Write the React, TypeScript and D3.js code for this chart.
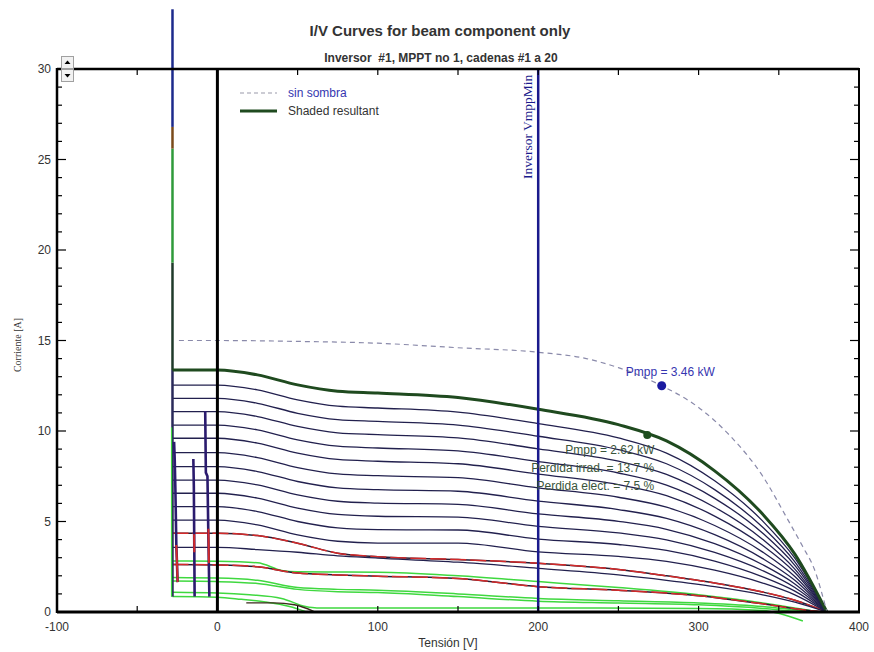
import React, { useEffect, useRef } from 'react';
import * as d3 from 'd3';

// Voltage grid (V) shared by the string-sum curves
const VOLTS = [0, 25, 50, 75, 100, 150, 200, 250, 280, 310, 340, 360, 380];

// Shaded resultant I(V), amps
const RESULTANT = [13.37, 13.1, 12.55, 12.2, 12.1, 11.85, 11.2, 10.35, 9.45, 7.8, 5.4, 3.2, 0];

// Partial string sums (navy family)
const STRING_SUMS: number[][] = [
  [12.54, 12.27, 11.72, 11.37, 11.27, 11.04, 10.41, 9.62, 8.78, 7.25, 5.02, 2.97, 0],
  [11.8, 11.53, 10.98, 10.63, 10.53, 10.33, 9.71, 8.97, 8.19, 6.76, 4.68, 2.77, 0],
  [11.07, 10.8, 10.25, 9.9, 9.8, 9.62, 9.01, 8.33, 7.6, 6.28, 4.35, 2.58, 0],
  [10.33, 10.06, 9.51, 9.16, 9.06, 8.9, 8.31, 7.68, 7.01, 5.79, 4.01, 2.37, 0],
  [9.6, 9.33, 8.78, 8.43, 8.33, 8.19, 7.62, 7.04, 6.43, 5.3, 3.67, 2.18, 0],
  [8.8, 8.53, 7.98, 7.63, 7.53, 7.42, 6.86, 6.34, 5.79, 4.78, 3.31, 1.96, 0],
  [8.03, 7.76, 7.21, 6.86, 6.76, 6.67, 6.13, 5.66, 5.17, 4.27, 2.95, 1.75, 0],
  [7.29, 7.02, 6.47, 6.12, 6.02, 5.95, 5.42, 5.01, 4.57, 3.78, 2.61, 1.55, 0],
  [6.56, 6.29, 5.74, 5.39, 5.29, 5.24, 4.73, 4.37, 3.99, 3.29, 2.28, 1.35, 0],
  [5.82, 5.55, 5.0, 4.65, 4.55, 4.53, 4.03, 3.73, 3.4, 2.81, 1.94, 1.15, 0],
  [5.08, 4.81, 4.26, 3.91, 3.81, 3.81, 3.32, 3.07, 2.8, 2.31, 1.6, 0.95, 0],
  [3.57, 3.45, 3.3, 3.1, 2.98, 2.75, 2.41, 2.05, 1.75, 1.4, 0.95, 0.55, 0],
];

// Partial sums with mismatch (red)
const MISMATCH_SUMS: [number, number][][] = [
  [[-28, 4.35], [0, 4.35], [25, 4.22], [50, 3.8], [75, 3.25], [100, 3.05], [150, 2.9], [200, 2.69], [250, 2.35], [280, 2.0], [310, 1.6], [340, 1.1], [360, 0.65], [380, 0]],
  [[-28, 2.63], [0, 2.6], [25, 2.5], [50, 2.15], [75, 2.05], [100, 1.98], [150, 1.85], [200, 1.4], [250, 1.2], [300, 0.9], [340, 0.45], [365, 0.12], [378, 0]],
];

// Single strings (green)
const SINGLE_STRINGS: [number, number][][] = [
  [[-28, 2.82], [0, 2.8], [25, 2.72], [40, 2.3], [50, 2.22], [100, 2.2], [150, 2.0], [200, 1.68], [250, 1.35], [300, 0.95], [340, 0.5], [365, 0.15], [375, 0]],
  [[-28, 1.9], [0, 1.88], [25, 1.75], [50, 1.35], [75, 1.25], [100, 1.2], [150, 1.0], [200, 0.75], [250, 0.62], [300, 0.5], [340, 0.3], [370, 0]],
  [[-28, 1.71], [0, 1.68], [25, 1.58], [50, 1.25], [75, 1.12], [100, 1.08], [150, 0.85], [200, 0.6], [250, 0.5], [300, 0.4], [340, 0.2], [365, 0]],
  [[-28, 1.09], [0, 1.05], [20, 0.95], [40, 0.75], [55, 0.3], [62, 0.22], [100, 0.22], [200, 0.22], [300, 0.2], [340, 0.08], [365, -0.5]],
  [[-28, 0.85], [0, 0.82], [15, 0.7], [30, 0.55], [45, 0.3], [55, 0.02]],
];
const SMALL_HUMP: [number, number][] = [[18, 0.5], [35, 0.5], [48, 0.4], [60, 0.04]];

// Unshaded reference curve (dashed)
const SIN_SOMBRA_V = [-24, 0, 50, 100, 150, 200, 230, 250, 265, 277, 300, 320, 340, 355, 365, 372, 380];
const SIN_SOMBRA_I = [15.0, 15.0, 14.95, 14.85, 14.6, 14.35, 14.0, 13.5, 13.0, 12.5, 11.3, 9.7, 7.5, 5.2, 3.6, 2.4, 0];

// Bypass-diode risers
const RISER_V = -28;
const RISER_LEVELS = [0.85, 13.37, 19.3, 25.6, 26.8, 33.3];
const BYPASS_SPIKES: [number, number][][] = [
  [[-27, 9.4], [-26.6, 8.4], [-26.2, 6.8], [-25.6, 3.7], [-24.8, 1.65]],
  [[-15, 8.45], [-14.7, 7.0], [-14.4, 3.5], [-14.2, 0.85]],
  [[-7.6, 11.1], [-7.2, 7.7], [-6.2, 7.5], [-5.6, 4.0], [-5, 0.85]],
];
const BYPASS_RED: [number, number][][] = [
  [[-25.6, 3.7], [-24.8, 1.65]],
  [[-14.5, 4.3], [-14.4, 3.3]],
  [[-5.6, 4.6], [-5.3, 2.7]],
];

// Maximum power points (V, A)
const MPP_UNSHADED: [number, number] = [277, 12.5];
const MPP_SHADED: [number, number] = [268, 9.78];
const INVERTER_VMPP_MIN = 200;

const X_TICK_LABELS = [-100, 0, 100, 200, 300, 400];
const Y_TICK_LABELS = [0, 5, 10, 15, 20, 25, 30];

const SANS = '"Liberation Sans", Arial, sans-serif';
const SERIF = '"Liberation Serif", "Times New Roman", serif';

export default function App() {
  const ref = useRef<SVGSVGElement>(null);

  useEffect(() => {
    const svg = d3.select(ref.current);
    svg.selectAll('*').remove();

    const x = d3.scaleLinear().domain([-100, 400]).range([57, 859]);
    const y = d3.scaleLinear().domain([0, 30]).range([612, 69]);
    const [x0, x1] = x.range();
    const [yb, yt] = y.range();

    const line = d3
      .line<[number, number]>()
      .x((d) => x(d[0]))
      .y((d) => y(d[1]))
      .curve(d3.curveMonotoneX);
    const straight = d3
      .line<[number, number]>()
      .x((d) => x(d[0]))
      .y((d) => y(d[1]));

    const g = svg.append('g');

    // Titles
    svg.append('text').attr('x', 440).attr('y', 36).attr('text-anchor', 'middle')
      .attr('font-family', SANS).attr('font-weight', 'bold').attr('font-size', 15).attr('fill', '#333')
      .text('I/V Curves for beam component only');
    svg.append('text').attr('x', 441).attr('y', 62).attr('text-anchor', 'middle')
      .attr('font-family', SANS).attr('font-weight', 'bold').attr('font-size', 12).attr('fill', '#333')
      .style('white-space', 'pre')
      .text('Inversor  #1, MPPT no 1, cadenas #1 a 20');

    // Green single strings
    SINGLE_STRINGS.forEach((s) => {
      g.append('path').attr('d', line(s)).attr('fill', 'none').attr('stroke', '#3fd83f').attr('stroke-width', 1.5);
    });
    g.append('path').attr('d', line(SMALL_HUMP)).attr('fill', 'none').attr('stroke', '#3a2a1a').attr('stroke-width', 1.3);

    // Red mismatch sums (dark under-line shows through gaps)
    MISMATCH_SUMS.forEach((s) => {
      g.append('path').attr('d', line(s)).attr('fill', 'none').attr('stroke', '#2a1a30').attr('stroke-width', 1.5);
      g.append('path').attr('d', line(s)).attr('fill', 'none').attr('stroke', '#d42a2a').attr('stroke-width', 1.5)
        .attr('stroke-dasharray', '16,4');
    });

    // Navy string sums
    STRING_SUMS.forEach((vals) => {
      const pts: [number, number][] = [[RISER_V, vals[0]], ...VOLTS.map((v, i) => [v, vals[i]] as [number, number])];
      g.append('path').attr('d', line(pts)).attr('fill', 'none').attr('stroke', '#22204e').attr('stroke-width', 1.3);
    });

    // Riser at bypass voltage
    const riserColors = ['#2a2a5a', '#1f3a2a', '#2f9a3a', '#7a4a1a', '#1c2a8c'];
    RISER_LEVELS.slice(0, -1).forEach((lv, i) => {
      g.append('path').attr('d', straight([[RISER_V, lv], [RISER_V, RISER_LEVELS[i + 1]]]))
        .attr('stroke', riserColors[i]).attr('stroke-width', 2.5).attr('fill', 'none');
    });
    g.append('path').attr('d', straight([[RISER_V - 0.6, 0.85], [RISER_V - 0.6, 10.2]]))
      .attr('stroke', '#3fd83f').attr('stroke-width', 1.2).attr('fill', 'none');

    // Bypass spikes
    BYPASS_SPIKES.forEach((s) => {
      g.append('path').attr('d', straight(s)).attr('fill', 'none').attr('stroke', '#2b1b6e').attr('stroke-width', 2.6);
    });
    BYPASS_RED.forEach((s) => {
      g.append('path').attr('d', straight(s)).attr('fill', 'none').attr('stroke', '#d42a2a').attr('stroke-width', 2);
    });

    // Shaded resultant
    const resPts: [number, number][] = [[RISER_V, RESULTANT[0]], ...VOLTS.map((v, i) => [v, RESULTANT[i]] as [number, number])];
    g.append('path').attr('d', line(resPts)).attr('fill', 'none').attr('stroke', '#1f4a1f').attr('stroke-width', 3);

    // Unshaded curve
    const ssPts = SIN_SOMBRA_V.map((v, i) => [v, SIN_SOMBRA_I[i]] as [number, number]);
    g.append('path').attr('d', line(ssPts)).attr('fill', 'none').attr('stroke', '#8a8aaa').attr('stroke-width', 1.2)
      .attr('stroke-dasharray', '5,4');

    // V = 0 line and inverter Vmpp min
    g.append('line').attr('x1', x(0)).attr('x2', x(0)).attr('y1', yt).attr('y2', yb).attr('stroke', '#000').attr('stroke-width', 3);
    g.append('line').attr('x1', x(INVERTER_VMPP_MIN)).attr('x2', x(INVERTER_VMPP_MIN)).attr('y1', yt).attr('y2', yb)
      .attr('stroke', '#1a1a8c').attr('stroke-width', 2.5);
    g.append('text').attr('transform', `translate(${x(INVERTER_VMPP_MIN) - 6},${179}) rotate(-90)`)
      .attr('font-family', SERIF).attr('font-size', 13.5).attr('fill', '#1a1a8c').text('Inversor VmppMin');

    // MPP markers and annotations
    g.append('circle').attr('cx', x(MPP_UNSHADED[0])).attr('cy', y(MPP_UNSHADED[1])).attr('r', 4.5).attr('fill', '#1a1aa0');
    g.append('circle').attr('cx', x(MPP_SHADED[0])).attr('cy', y(MPP_SHADED[1])).attr('r', 4).attr('fill', '#1d4d1d');
    const pU = (MPP_UNSHADED[0] * MPP_UNSHADED[1]) / 1000;
    const pS = (MPP_SHADED[0] * MPP_SHADED[1]) / 1000;
    g.append('text').attr('x', x(MPP_UNSHADED[0]) - 36).attr('y', y(MPP_UNSHADED[1]) - 10)
      .attr('font-family', SANS).attr('font-size', 12).attr('fill', '#3535b0').text(`Pmpp = ${pU.toFixed(2)} kW`);
    const ann = [`Pmpp = ${pS.toFixed(2)} kW`, 'Perdida irrad. = 13.7 %', 'Perdida elect. = 7.5 %'];
    ann.forEach((t, i) => {
      g.append('text').attr('x', x(MPP_SHADED[0]) + 7).attr('y', y(MPP_SHADED[1]) + 19 + i * 18).attr('text-anchor', 'end')
        .attr('font-family', SANS).attr('font-size', 12).attr('fill', '#3a553a').text(t);
    });

    // Frame
    const frame = svg.append('g').attr('stroke', '#000').attr('fill', 'none');
    frame.append('line').attr('x1', x0).attr('x2', x1).attr('y1', yt).attr('y2', yt).attr('stroke-width', 2.5);
    frame.append('line').attr('x1', x0).attr('x2', x1 + 1).attr('y1', yb).attr('y2', yb).attr('stroke-width', 3);
    frame.append('line').attr('x1', x0).attr('x2', x0).attr('y1', yt - 1).attr('y2', yb + 1).attr('stroke-width', 2.5);
    frame.append('line').attr('x1', x1).attr('x2', x1).attr('y1', yt - 1).attr('y2', yb + 1).attr('stroke-width', 2);

    // Ticks
    d3.range(-50, 400, 50).forEach((v) => {
      frame.append('line').attr('x1', x(v)).attr('x2', x(v)).attr('y1', yt).attr('y2', yt + 6).attr('stroke-width', 1.2);
      frame.append('line').attr('x1', x(v)).attr('x2', x(v)).attr('y1', yb).attr('y2', yb - 6).attr('stroke-width', 1.2);
    });
    d3.range(1, 30).forEach((i) => {
      const len = i % 5 === 0 ? 9 : 5;
      frame.append('line').attr('x1', x0).attr('x2', x0 + len).attr('y1', y(i)).attr('y2', y(i)).attr('stroke-width', 1.2);
      frame.append('line').attr('x1', x1).attr('x2', x1 - len).attr('y1', y(i)).attr('y2', y(i)).attr('stroke-width', 1.2);
    });

    // Tick labels
    X_TICK_LABELS.forEach((v) => {
      svg.append('text').attr('x', x(v)).attr('y', 631).attr('text-anchor', 'middle')
        .attr('font-family', SANS).attr('font-size', 12).attr('fill', '#333').text(String(v));
    });
    Y_TICK_LABELS.forEach((v) => {
      svg.append('text').attr('x', 51).attr('y', y(v) + 4).attr('text-anchor', 'end')
        .attr('font-family', SANS).attr('font-size', 12).attr('fill', '#333').text(String(v));
    });

    // Axis titles
    svg.append('text').attr('x', 448).attr('y', 647).attr('text-anchor', 'middle')
      .attr('font-family', SANS).attr('font-size', 12).attr('fill', '#333').text('Tensión [V]');
    svg.append('text').attr('transform', 'translate(21,345) rotate(-90)').attr('text-anchor', 'middle')
      .attr('font-family', SERIF).attr('font-size', 10).attr('fill', '#333').text('Corriente [A]');

    // Spinner control
    const sp = svg.append('g');
    [56, 69].forEach((ty, i) => {
      sp.append('rect').attr('x', 61.5).attr('y', ty + 0.5).attr('width', 12).attr('height', 12)
        .attr('fill', '#f2f2f2').attr('stroke', '#a0a0a0');
      const cx = 67.5;
      const cy = ty + 6.5;
      const tri = i === 0 ? `M${cx - 3},${cy + 1.5}L${cx + 3},${cy + 1.5}L${cx},${cy - 2}Z` : `M${cx - 3},${cy - 1.5}L${cx + 3},${cy - 1.5}L${cx},${cy + 2}Z`;
      sp.append('path').attr('d', tri).attr('fill', '#000');
    });

    // Legend
    const lg = svg.append('g');
    lg.append('line').attr('x1', 240).attr('x2', 277).attr('y1', 93).attr('y2', 93)
      .attr('stroke', '#9a9aaa').attr('stroke-width', 1.2).attr('stroke-dasharray', '4,3');
    lg.append('text').attr('x', 288).attr('y', 97).attr('font-family', SANS).attr('font-size', 12)
      .attr('fill', '#3535b0').text('sin sombra');
    lg.append('line').attr('x1', 240).attr('x2', 277).attr('y1', 111).attr('y2', 111)
      .attr('stroke', '#1f4a1f').attr('stroke-width', 3);
    lg.append('text').attr('x', 288).attr('y', 115).attr('font-family', SANS).attr('font-size', 12)
      .attr('fill', '#333').text('Shaded resultant');
  }, []);

  return (
    <svg
      ref={ref}
      width={874}
      height={652}
      style={{ position: 'absolute', left: 0, top: 0, background: '#fff' }}
    />
  );
}
